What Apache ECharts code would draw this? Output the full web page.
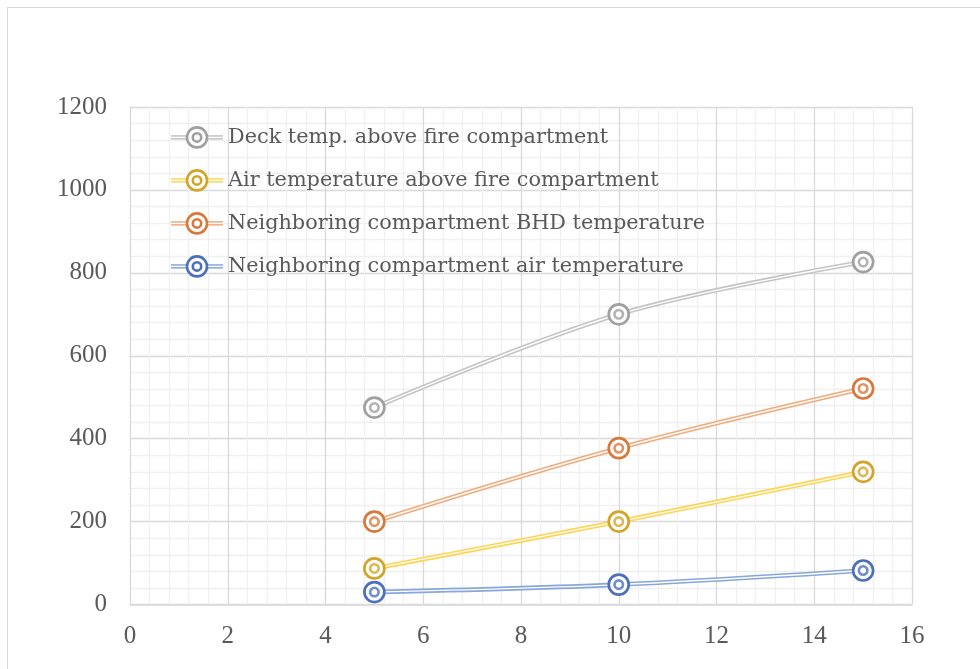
<!DOCTYPE html>
<html>
<head>
<meta charset="utf-8">
<style>
  html, body { margin: 0; padding: 0; background: #fff; }
  #frame { position: absolute; left: 7px; top: 7px; width: 990px; height: 700px; border: 1.5px solid #d9d9d9; box-sizing: border-box; }
  #chart { position: absolute; left: 0; top: 0; width: 980px; height: 669px; }
</style>
<script src="https://cdn.jsdelivr.net/npm/echarts@6/dist/echarts.min.js"></script>
</head>
<body>
<div id="frame"></div>
<div id="chart"></div>
<script>
// Elapsed time (x) and measured temperatures (y)
const times = [5, 10, 15];
const seriesNames = [
  'Deck temp. above fire compartment',
  'Air temperature above fire compartment',
  'Neighboring compartment BHD temperature',
  'Neighboring compartment air temperature'
];
const deckTemp = [475, 700, 826];
const airAboveFire = [87, 200, 320];
const bhdTemp = [200, 377, 521];
const neighborAir = [30, 48, 82];
const xTicks = [0, 2, 4, 6, 8, 10, 12, 14, 16];
const yTicks = [0, 200, 400, 600, 800, 1000, 1200];

const allValues = [deckTemp, airAboveFire, bhdTemp, neighborAir];
// line (light) and marker (dark) colours per series
const lineColors = ['#c4c4c4', '#ffd454', '#f3aa7a', '#88a6db'];
const markColors = ['#a0a0a0', '#d2a52a', '#d8793c', '#4d70bd'];

const textColor = '#595959';
const tickFont = '"Liberation Serif", serif';
const legendFont = '"DejaVu Serif", serif';

// Legend swatch: a double line crossed by a double ring
function legendIcon(lineC, markC) {
  const svg =
    '<svg xmlns="http://www.w3.org/2000/svg" width="52" height="24" viewBox="0 0 52 24">' +
    '<rect x="0" y="9.2" width="52" height="4.4" fill="' + lineC + '"/>' +
    '<rect x="0" y="10.7" width="52" height="1.4" fill="#ffffff"/>' +
    '<circle cx="26" cy="11.4" r="10" fill="#ffffff" stroke="' + markC + '" stroke-width="2.6"/>' +
    '<circle cx="26" cy="11.4" r="4.2" fill="#ffffff" stroke="' + markC + '" stroke-width="2.6"/>' +
    '</svg>';
  return 'image://data:image/svg+xml;charset=utf-8,' + encodeURIComponent(svg);
}

function pairs(vals) { return times.map((t, i) => [t, vals[i]]); }

const series = [];
seriesNames.forEach((name, k) => {
  const data = pairs(allValues[k]);
  // outer stroke of the double line
  series.push({
    name: name, type: 'line', data: data, smooth: 0.35, z: 2 + k * 3,
    symbol: 'none', lineStyle: { color: lineColors[k], width: 4.6 },
    itemStyle: { color: markColors[k] }
  });
  // white core that splits the line in two, plus outer ring marker
  series.push({
    name: name, type: 'line', data: data, smooth: 0.35, z: 3 + k * 3,
    symbol: 'circle', symbolSize: 20,
    lineStyle: { color: '#ffffff', width: 1.4 },
    itemStyle: { color: '#ffffff', borderColor: markColors[k], borderWidth: 2.7 }
  });
  // inner ring
  series.push({
    name: name, type: 'scatter', data: data, z: 4 + k * 3,
    symbol: 'circle', symbolSize: 8.5,
    itemStyle: { color: '#ffffff', borderColor: markColors[k], borderWidth: 2.6 }
  });
});

const chart = echarts.init(document.getElementById('chart'), null, { renderer: 'canvas' });
chart.setOption({
  animation: false,
  backgroundColor: 'transparent',
  grid: { left: 130, right: 68, top: 107, bottom: 64.5 },
  legend: {
    left: 171, top: 126, orient: 'vertical',
    itemWidth: 52, itemHeight: 24, itemGap: 19,
    padding: 0,
    data: seriesNames.map((n, k) => ({ name: n, icon: legendIcon(lineColors[k], markColors[k]) })),
    textStyle: { color: textColor, fontFamily: legendFont, fontSize: 20.8, lineHeight: 24 }
  },
  xAxis: {
    type: 'value', min: xTicks[0], max: xTicks[xTicks.length - 1], interval: 2,
    axisLine: { show: true, lineStyle: { color: '#d9d9d9', width: 1.5 } },
    axisTick: { show: false },
    axisLabel: { color: textColor, fontFamily: tickFont, fontSize: 25, margin: 19,
      formatter: v => String(v) },
    splitLine: { show: true, lineStyle: { color: '#d9d9d9', width: 1.3 } },
    minorTick: { show: false, splitNumber: 5 },
    minorSplitLine: { show: true, lineStyle: { color: '#f0f0f0', width: 1.3 } }
  },
  yAxis: {
    type: 'value', min: yTicks[0], max: yTicks[yTicks.length - 1], interval: 200,
    axisLine: { show: false },
    axisTick: { show: false },
    axisLabel: { color: textColor, fontFamily: tickFont, fontSize: 25, margin: 23,
      formatter: v => String(v) },
    splitLine: { show: true, lineStyle: { color: '#d9d9d9', width: 1.3 } },
    minorTick: { show: false, splitNumber: 5 },
    minorSplitLine: { show: true, lineStyle: { color: '#f0f0f0', width: 1.3 } }
  },
  series: series
});
</script>
</body>
</html>
